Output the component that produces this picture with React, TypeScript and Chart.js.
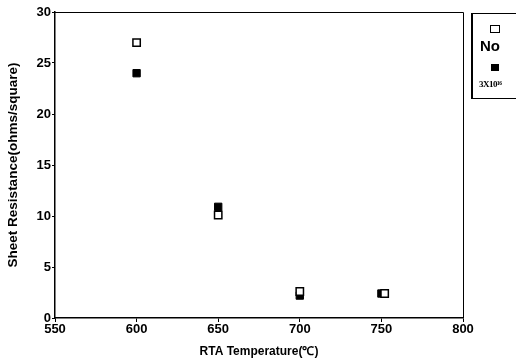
import React, { useEffect, useRef } from "react";
import { Chart, registerables } from "chart.js";

Chart.register(...registerables);

const seriesNames = ["No", "3X10¹⁶"];
const noX = [600, 650, 700, 752];
const noY = [27, 10.1, 2.6, 2.4];
const dopedX = [600, 650, 700, 750];
const dopedY = [24, 10.9, 2.2, 2.4];
const xTicks = [550, 600, 650, 700, 750, 800];
const yTicks = [0, 5, 10, 15, 20, 25, 30];

const FONT = "'Liberation Sans', Arial, sans-serif";

const framePlugin = {
  id: "frame",
  afterDatasetsDraw(chart: any) {
    const { ctx, chartArea } = chart;
    ctx.save();
    ctx.strokeStyle = "#000";
    ctx.lineWidth = 1;
    ctx.beginPath();
    ctx.moveTo(chartArea.left, chartArea.top + 0.5);
    ctx.lineTo(chartArea.right + 0.5, chartArea.top + 0.5);
    ctx.lineTo(chartArea.right + 0.5, chartArea.bottom);
    ctx.stroke();
    ctx.restore();
  },
};

export default function App() {
  const ref = useRef<HTMLCanvasElement>(null);
  useEffect(() => {
    if (!ref.current) return;
    const chart = new Chart(ref.current, {
      type: "scatter",
      data: {
        datasets: [
          {
            label: seriesNames[0],
            data: noX.map((x, i) => ({ x, y: noY[i] })),
            pointStyle: "rect",
            pointRadius: 5.2,
            backgroundColor: "#fff",
            borderColor: "#000",
            borderWidth: 1.5,
          },
          {
            label: seriesNames[1],
            data: dopedX.map((x, i) => ({ x, y: dopedY[i] })),
            pointStyle: "rect",
            pointRadius: 5.2,
            backgroundColor: "#000",
            borderColor: "#000",
            borderWidth: 1,
          },
        ],
      },
      plugins: [framePlugin],
      options: {
        animation: false,
        responsive: false,
        layout: { padding: { top: 12, right: 53, left: 0, bottom: 0 } },
        plugins: { legend: { display: false }, tooltip: { enabled: false } },
        scales: {
          x: {
            type: "linear",
            min: 550,
            max: 800,
            afterBuildTicks: (s: any) => {
              s.ticks = xTicks.map((v) => ({ value: v }));
            },
            afterFit: (s: any) => {
              s.height = 44;
            },
            grid: { drawOnChartArea: false, drawTicks: true, tickLength: 4, color: "#000" },
            border: { color: "#000", width: 1.5 },
            ticks: {
              color: "#000",
              padding: 0,
              maxRotation: 0,
              font: { family: FONT, size: 13, weight: "bold" },
            },
            title: {
              display: true,
              text: "RTA Temperature(℃)",
              color: "#000",
              padding: { top: 2, bottom: 3 },
              font: { family: FONT, size: 12, weight: "bold" },
            },
          },
          y: {
            min: 0,
            max: 30,
            afterBuildTicks: (s: any) => {
              s.ticks = yTicks.map((v) => ({ value: v }));
            },
            afterFit: (s: any) => {
              s.width = 55;
            },
            grid: { drawOnChartArea: false, drawTicks: true, tickLength: 3, color: "#000" },
            border: { color: "#000", width: 1.5 },
            ticks: {
              color: "#000",
              padding: 1,
              font: { family: FONT, size: 13, weight: "bold" },
            },
            title: {
              display: true,
              text: "Sheet Resistance(ohms/square)",
              color: "#000",
              padding: { top: 5, bottom: 0 },
              font: { family: FONT, size: 13.5, weight: "bold" },
            },
          },
        },
      },
    } as any);
    return () => chart.destroy();
  }, []);

  return (
    <div style={{ position: "absolute", left: 0, top: 0, width: 516, height: 362, background: "#fff", overflow: "hidden" }}>
      <canvas ref={ref} width={516} height={362} style={{ position: "absolute", left: 0, top: 0 }} />
      <div
        style={{
          position: "absolute",
          left: 471,
          top: 13,
          width: 60,
          height: 84,
          borderLeft: "2px solid #000",
          borderTop: "1px solid #000",
          borderBottom: "1px solid #000",
          fontFamily: FONT,
          color: "#000",
        }}
      >
        <div style={{ position: "absolute", left: 17, top: 11, width: 8, height: 6, border: "1.5px solid #000", background: "#fff" }} />
        <div style={{ position: "absolute", left: 7, top: 24, fontSize: 15, fontWeight: "bold", lineHeight: "16px" }}>{seriesNames[0]}</div>
        <div style={{ position: "absolute", left: 18, top: 50, width: 8, height: 7, background: "#000" }} />
        <div style={{ position: "absolute", left: 6, top: 64, fontSize: 9, fontWeight: "bold", lineHeight: "12px", fontFamily: "'Liberation Serif', serif", letterSpacing: -0.5 }}>{seriesNames[1]}</div>
      </div>
    </div>
  );
}
